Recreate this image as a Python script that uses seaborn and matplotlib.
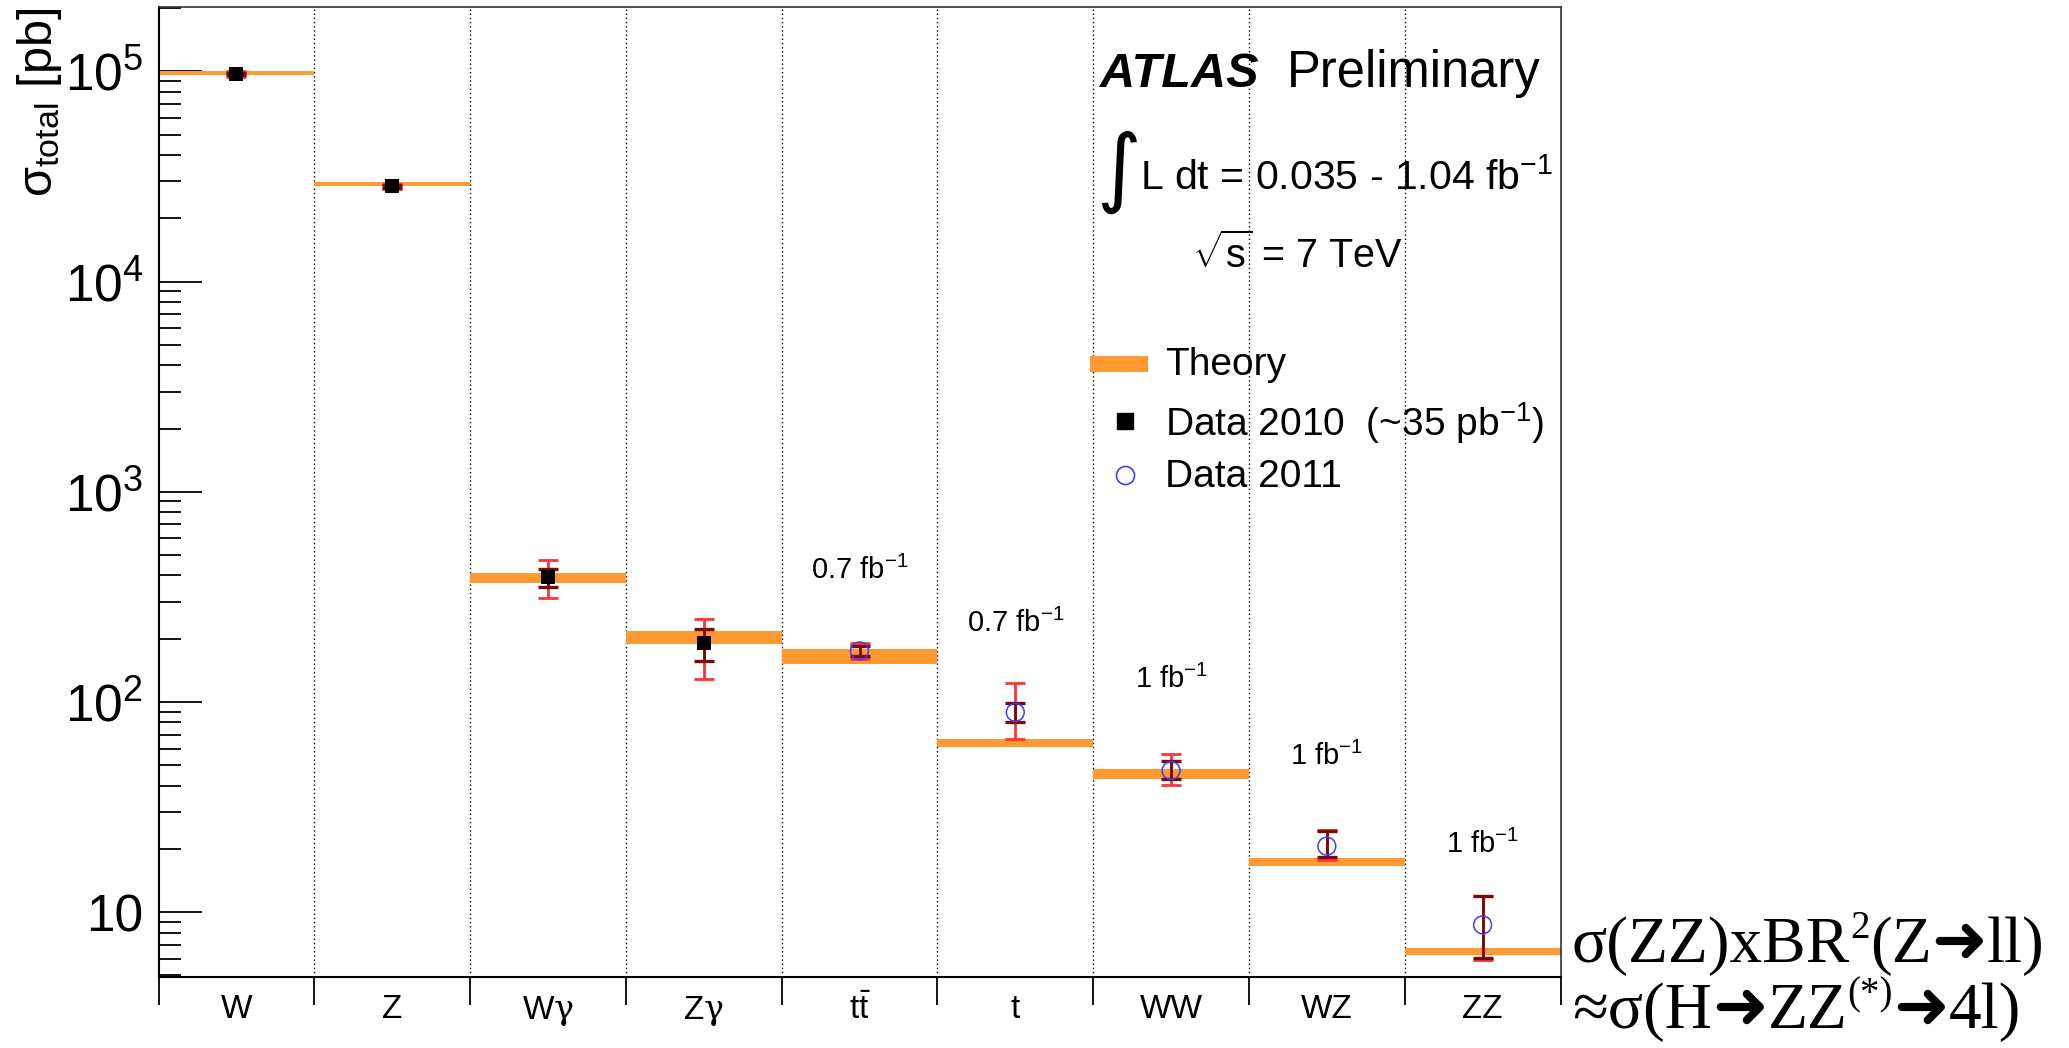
import matplotlib
matplotlib.use("Agg")
import matplotlib.pyplot as plt
from matplotlib.lines import Line2D
from matplotlib.ticker import FixedLocator, LogLocator, NullFormatter, FuncFormatter
import numpy as np
import pandas as pd
import seaborn as sns

# ---------------------------------------------------------------- data
processes = ["W", "Z", "Wγ", "Zγ", "ttbar", "t", "WW", "WZ", "ZZ"]
tick_labels = ["W", "Z", r"W$\mathsf{\gamma}$", r"Z$\mathsf{\gamma}$",
               r"$\mathregular{t\bar{t}}$", "t", "WW", "WZ", "ZZ"]

# theory prediction band (pb)
theory_low = [9.65e4, 2.84e4, 367, 189, 151, 61.4, 43.0, 16.5, 6.27]
theory_high = [1.005e5, 2.97e4, 412, 218, 179, 67.0, 48.2, 18.2, 6.74]

# 2010 measurements (~35 pb^-1)
data2010_proc = ["W", "Z", "Wγ", "Zγ"]
data2010_val = [9.73e4, 2.84e4, 394, 190]
data2010_stat_low = [9.60e4, 2.80e4, 352, 156]
data2010_stat_high = [9.86e4, 2.88e4, 430, 223]
data2010_tot_low = [9.40e4, 2.76e4, 314, 129]
data2010_tot_high = [1.006e5, 2.92e4, 473, 248]

# 2011 measurements
data2011_proc = ["ttbar", "t", "WW", "WZ", "ZZ"]
data2011_val = [175, 89.3, 47.2, 20.6, 8.7]
data2011_stat_low = [166, 80.7, 43.1, 18.3, 6.04]
data2011_stat_high = [184, 98.6, 52.4, 24.4, 11.96]
data2011_tot_low = [160, 67.0, 40.2, 17.8, 5.93]
data2011_tot_high = [191, 123.6, 56.4, 24.6, 12.0]

# integrated luminosity used for each 2011 result
lumi_text = ["0.7 fb$^{-1}$", "0.7 fb$^{-1}$", "1 fb$^{-1}$", "1 fb$^{-1}$", "1 fb$^{-1}$"]
lumi_y = [424, 237, 128, 55.2, 21]

# ---------------------------------------------------------------- style
ORANGE = "#FF9A33"
RED = "#FF3333"
DARK = "#780A0A"
BLUE = "#3C3CFF"

sns.set_style("ticks")
plt.rcParams["font.family"] = ["Liberation Sans", "DejaVu Sans"]
plt.rcParams["mathtext.fontset"] = "custom"
plt.rcParams["mathtext.rm"] = "Liberation Sans"
plt.rcParams["mathtext.it"] = "Liberation Sans:italic"
plt.rcParams["mathtext.bf"] = "Liberation Sans:bold"
plt.rcParams["mathtext.sf"] = "DejaVu Serif"
for key in ["text.color", "axes.labelcolor", "xtick.color", "ytick.color", "axes.edgecolor"]:
    plt.rcParams[key] = "black"

W_PX, H_PX = 2069, 1048
fig = plt.figure(figsize=(W_PX / 100, H_PX / 100), dpi=100)


def fx(px):
    return px / W_PX


def fy(py):
    return 1 - py / H_PX


ax = fig.add_axes([fx(158.5), fy(977.3), fx(1560.5) - fx(158.5), fy(7.3) - fy(977.3)])

pos = {p: i for i, p in enumerate(processes)}
xpos = np.arange(len(processes))

# bin separators
for edge in np.arange(0.5, len(processes) - 0.5, 1.0):
    ax.axvline(edge, color="black", lw=1.0, ls=(0, (1, 2)), zorder=1)

# theory bands
t_lo = np.array(theory_low)
t_hi = np.array(theory_high)
ax.bar(xpos, t_hi - t_lo, bottom=t_lo, width=1.0, color=ORANGE, linewidth=0, zorder=2)


def draw_errors(names, val, lo, hi, color, lw, capthick, z):
    x = [pos[n] for n in names]
    val = np.array(val)
    ax.errorbar(x, val, yerr=[val - np.array(lo), np.array(hi) - val], fmt="none",
                ecolor=color, elinewidth=lw, capsize=7.2, capthick=capthick, zorder=z)


draw_errors(data2010_proc, data2010_val, data2010_tot_low, data2010_tot_high, RED, 2.0, 2.0, 3)
draw_errors(data2010_proc, data2010_val, data2010_stat_low, data2010_stat_high, DARK, 2.0, 2.4, 4)
draw_errors(data2011_proc, data2011_val, data2011_tot_low, data2011_tot_high, RED, 2.0, 2.0, 3)
draw_errors(data2011_proc, data2011_val, data2011_stat_low, data2011_stat_high, DARK, 2.0, 2.4, 4)

df2010 = pd.DataFrame({"x": [pos[n] for n in data2010_proc], "xsec": data2010_val})
df2011 = pd.DataFrame({"x": [pos[n] for n in data2011_proc], "xsec": data2011_val})
sns.scatterplot(data=df2010, x="x", y="xsec", marker="s", s=88, color="black",
                edgecolor="black", linewidth=0, zorder=5, legend=False, ax=ax)
sns.scatterplot(data=df2011, x="x", y="xsec", marker="o", s=165, facecolor="none",
                edgecolor=BLUE, linewidth=1.1, zorder=5, legend=False, ax=ax)

for name, txt, yv in zip(data2011_proc, lumi_text, lumi_y):
    ax.text(pos[name], yv, txt, ha="center", va="center", fontsize=21)

# ---------------------------------------------------------------- axes
ax.set_yscale("log")
ax.set_ylim(4.9, 2.02e5)
ax.set_xlim(-0.5, len(processes) - 0.5)
ax.set_xlabel("")
ax.set_ylabel("")

ax.yaxis.set_major_locator(FixedLocator([10, 1e2, 1e3, 1e4, 1e5]))
ax.yaxis.set_minor_locator(LogLocator(base=10, subs=np.arange(2, 10)))
ax.yaxis.set_minor_formatter(NullFormatter())
ax.yaxis.set_major_formatter(FuncFormatter(
    lambda v, p: "10" if round(v) == 10 else r"$\mathregular{10^{%d}}$" % round(np.log10(v))))
ax.tick_params(axis="y", which="major", direction="in", length=31, width=1.3,
               labelsize=37, pad=11, left=True, right=False)
ax.tick_params(axis="y", which="minor", direction="in", length=16, width=1.3,
               left=True, right=False)

ax.set_xticks(np.arange(-0.5, len(processes), 1.0))
ax.set_xticklabels([])
ax.set_xticks(xpos, minor=True)
ax.set_xticklabels(tick_labels, minor=True)
ax.tick_params(axis="x", which="major", direction="out", length=20, width=1.3,
               bottom=True, top=False)
ax.tick_params(axis="x", which="minor", length=0, labelsize=24, pad=12)

for side in ["left", "bottom"]:
    ax.spines[side].set_linewidth(1.5)
    ax.spines[side].set_color("black")
for side in ["top", "right"]:
    ax.spines[side].set_linewidth(1.2)
    ax.spines[side].set_color("#333333")

fig.text(fx(40), fy(8), r"$\mathregular{\sigma_{total}}$ [pb]", rotation=90,
         ha="center", va="top", fontsize=35)

# ---------------------------------------------------------------- labels in the plot
fig.text(fx(1100), fy(87), "ATLAS", fontsize=35, fontweight="bold", fontstyle="italic",
         va="baseline", ha="left")
fig.text(fx(1287), fy(87), "Preliminary", fontsize=36.5, va="baseline", ha="left")
fig.text(fx(1096), fy(172), "∫", fontsize=62, family="DejaVu Sans", va="center", ha="left")
fig.text(fx(1140), fy(190), "L dt = 0.035 - 1.04 fb$^{-1}$", fontsize=29.5,
         va="baseline", ha="left")
fig.text(fx(1192), fy(268), r"$\mathregular{\sqrt{s}}$ = 7 TeV", fontsize=28.5,
         va="baseline", ha="left")

# key
fig.add_artist(Line2D([fx(1090), fx(1148)], [fy(364), fy(364)], color=ORANGE, lw=11.5,
                      solid_capstyle="butt", transform=fig.transFigure))
fig.add_artist(Line2D([fx(1125)], [fy(421)], marker="s", color="black", ls="none",
                      markersize=12, transform=fig.transFigure))
fig.add_artist(Line2D([fx(1125)], [fy(474.5)], marker="o", mfc="none", mec=BLUE, mew=1.2,
                      ls="none", markersize=13, transform=fig.transFigure))
key_text = [("Theory", 375), ("Data 2010  (~35 pb$^{-1}$)", 436), ("Data 2011", 487)]
for txt, base in key_text:
    fig.text(fx(1165), fy(base), txt, fontsize=28, va="baseline", ha="left")

# ---------------------------------------------------------------- ZZ / Higgs note
SERIF = ["Liberation Serif", "DejaVu Serif"]


def text_row(x0, baseline, pieces):
    prev = None
    for txt, size, rise, fam, weight in pieces:
        yb = fy(baseline - rise)
        if prev is None:
            prev = fig.text(fx(x0), yb, txt, fontsize=size, family=fam, fontweight=weight,
                            va="baseline", ha="left")
        else:
            prev = ax.annotate(txt, xy=(1, yb), xycoords=(prev, "figure fraction"),
                               fontsize=size, family=fam, fontweight=weight,
                               va="baseline", ha="left", annotation_clip=False)


ARROW = ("➜", 48, 0, "DejaVu Sans", "normal")
text_row(1572, 961.7, [
    ("σ(ZZ)xBR", 47, 0, SERIF, "normal"),
    ("2", 28, 24, SERIF, "normal"),
    ("(Z", 47, 0, SERIF, "normal"),
    ARROW,
    ("ll)", 47, 0, SERIF, "normal"),
])
text_row(1572, 1028, [
    ("≈σ(H", 47, 0, SERIF, "normal"),
    ARROW,
    ("ZZ", 47, 0, SERIF, "normal"),
    ("(*)", 28, 24, SERIF, "normal"),
    ARROW,
    ("4l)", 47, 0, SERIF, "normal"),
])

fig.savefig("out.png", dpi=100)
